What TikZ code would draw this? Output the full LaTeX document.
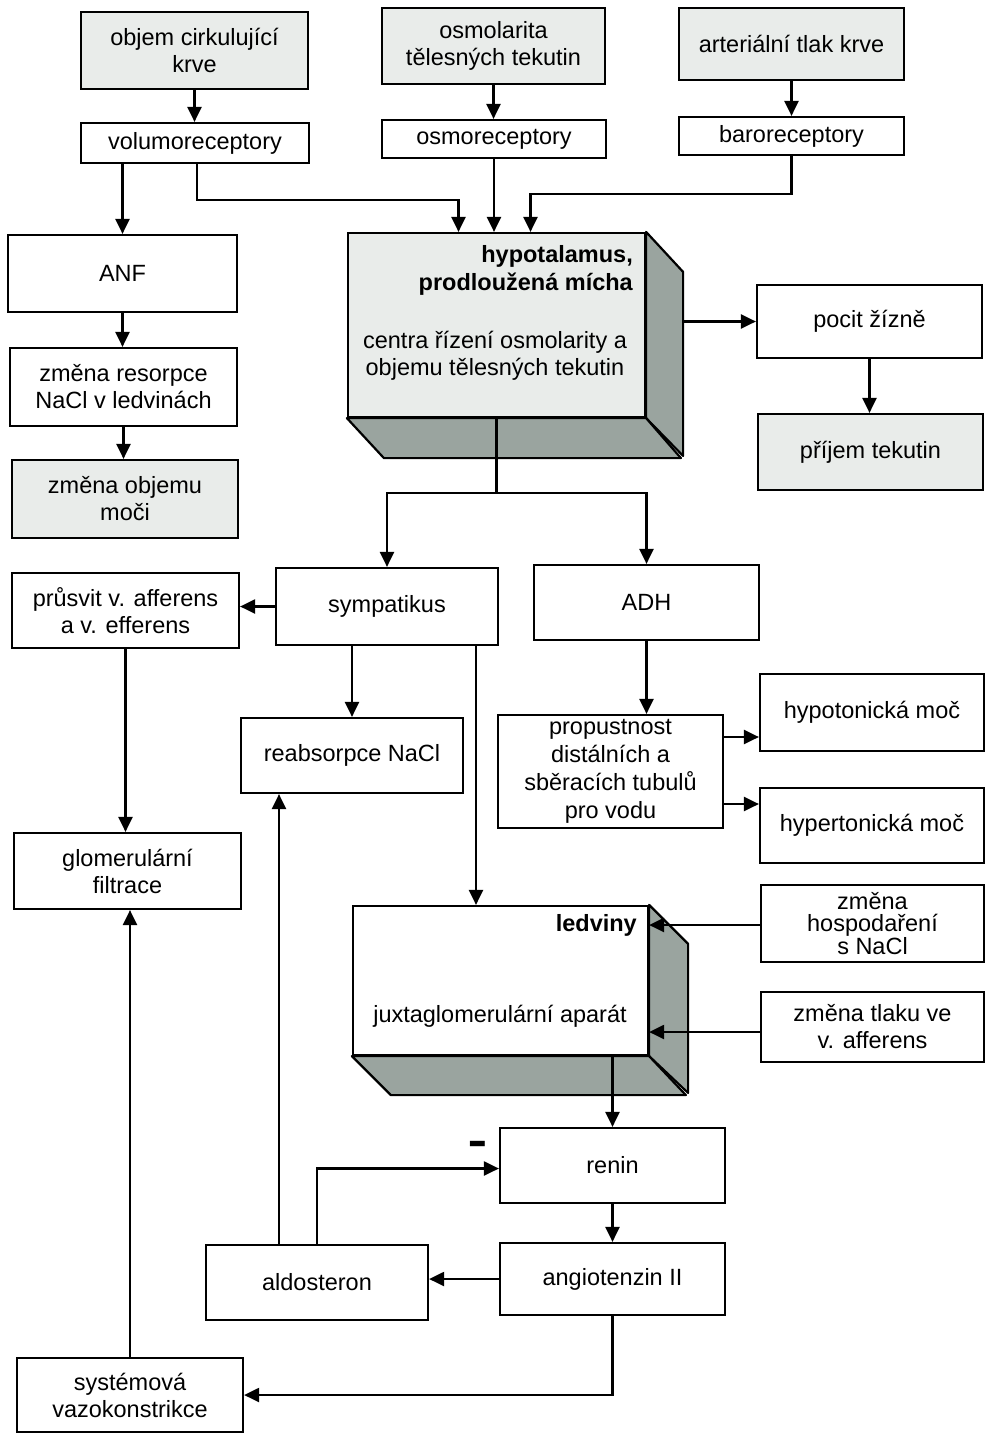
\documentclass[tikz,border=0pt]{standalone}
\usepackage{fontspec}
\setmainfont{Liberation Sans}
\usetikzlibrary{arrows.meta}
\definecolor{shadelight}{HTML}{E9ECEA}
\definecolor{shadedark}{HTML}{9AA49F}

\begin{document}
\begin{tikzpicture}[
    x=1pt, y=-1pt,
    >={Triangle[length=15pt,width=14pt]},
    every node/.style={font=\fontsize{23.5}{27}\selectfont},
    box/.style={
        rectangle,
        draw,
        line width=2.2pt,
        fill=white,
        align=center,
        inner sep=2pt,
        minimum width=225pt,
        minimum height=76pt
    },
    thinbox/.style={box, minimum height=39pt},
    shadebox/.style={box, fill=shadelight},
    face/.style={draw, line width=2.2pt, fill=shadedark, line join=round},
    arrow/.style={->, line width=2.2pt},
    line/.style={line width=2.2pt}
]
    \useasboundingbox (0,0) rectangle (985,1435);

    % === STIMULI AND RECEPTORS ===
    \node[shadebox, minimum width=227pt, minimum height=77pt] (volume) at (194.5,50.5) {objem cirkulující\\krve};
    \node[shadebox, minimum width=223pt] (osmolarity) at (493.5,46) {osmolarita\\tělesných tekutin};
    \node[shadebox, minimum height=72pt] (pressure) at (791.5,44) {arteriální tlak krve};

    \node[thinbox, minimum width=228pt, minimum height=40pt] (volrec) at (195,143) {volumoreceptory};
    \node[thinbox, minimum width=224pt, minimum height=38pt] (osmorec) at (494,139) {osmoreceptory};
    \node[thinbox, minimum height=38pt] (barorec) at (791.5,136) {baroreceptory};

    % === HYPOTALAMUS (block) ===
    \node[shadebox, minimum width=297pt, minimum height=184pt] (hypo) at (496.5,325) {};
    \draw[face] (hypo.north east) -- ++(37,40) -- ++(0,184) -- (hypo.south east) -- cycle;
    \draw[face] (hypo.south west) -- ++(37,40) -- ++(297,0) -- (hypo.south east) -- cycle;
    \node[anchor=north east, align=right, inner sep=0,
          font=\fontsize{23.5}{28}\selectfont\bfseries] (hypotitle) at (633,245) {hypotalamus,\\prodloužená mícha};
    \node[align=center, inner sep=0] (hypotext) at (495,356) {centra řízení osmolarity a\\objemu tělesných tekutin};

    % thirst
    \node[box, minimum height=73pt] (thirst) at (869.5,321.5) {pocit žízně};
    \node[shadebox] (intake) at (870.5,452) {příjem tekutin};

    % === LEFT COLUMN ===
    \node[box, minimum width=229pt, minimum height=77pt] (anf) at (122.5,273.5) {ANF};
    \node[box, minimum width=227pt, minimum height=78pt] (resorb) at (123.5,387) {změna resorpce\\NaCl v ledvinách};
    \node[shadebox, minimum width=226pt, minimum height=78pt] (urine) at (125,499) {změna objemu\\moči};

    \node[box, minimum width=227pt, minimum height=75pt] (lumen) at (125.5,610.5) {průsvit v. afferens\\a v. efferens};
    \node[box, minimum width=227pt, minimum height=76pt] (gfr) at (127.5,871) {glomerulární\\filtrace};

    % === SYMPATIKUS / ADH ===
    \node[box, minimum width=222pt, minimum height=77pt] (symp) at (387,606.5) {sympatikus};
    \node[box, minimum height=75pt] (adh) at (646.5,602.5) {ADH};
    \node[box, minimum width=222pt, minimum height=75pt] (reabs) at (352,755.5) {reabsorpce NaCl};
    \node[box, minimum height=113pt, inner sep=0pt,
          font=\fontsize{23.5}{28}\selectfont] (perm) at (610.5,771.5) {propustnost\\distálních a\\sběracích tubulů\\pro vodu};
    \node[box, minimum width=224pt, minimum height=77pt] (hypoton) at (872,712.5) {hypotonická moč};
    \node[box, minimum width=224pt, minimum height=75pt] (hyperton) at (872,825.5) {hypertonická moč};

    % === LEDVINY (block) ===
    \node[box, minimum width=295pt, minimum height=149pt] (kidney) at (500.5,980.5) {};
    \draw[face] (kidney.north east) -- ++(39,39) -- ++(0,149) -- (kidney.south east) -- cycle;
    \draw[face] (kidney.south west) -- ++(39,39) -- ++(295,0) -- (kidney.south east) -- cycle;
    \node[anchor=east, inner sep=0, font=\fontsize{23.5}{27}\selectfont\bfseries] (kidneytitle) at (637,925) {ledviny};
    \node[inner sep=0] (jga) at (500,1016) {juxtaglomerulární aparát};

    \node[box, minimum width=223pt, minimum height=77pt,
          font=\fontsize{23.5}{21.5}\selectfont] (nacl) at (872.5,923.5) {změna\\hospodaření\\s NaCl};
    \node[box, minimum width=223pt, minimum height=70pt] (afpress) at (872.5,1027) {změna tlaku ve\\v. afferens};

    % === RENIN - ANGIOTENZIN - ALDOSTERON ===
    \node[box, minimum height=75pt] (renin) at (612.5,1165.5) {renin};
    \node[box, minimum height=72pt] (angio) at (612.5,1279) {angiotenzin II};
    \node[box, minimum width=222pt, minimum height=75pt] (aldo) at (317,1282.5) {aldosteron};
    \node[box, minimum width=226pt, minimum height=74pt] (vaso) at (130,1395) {systémová\\vazokonstrikce};
    \node[anchor=base, inner sep=0, font=\fontsize{30}{30}\selectfont\bfseries] (minus) at (478,1158) {\scalebox{1}[1.8]{–}};

    % === CONNECTORS ===
    \draw[arrow] (volume.south) -- (volume.south |- volrec.north);
    \draw[arrow] (osmolarity.south) -- (osmolarity.south |- osmorec.north);
    \draw[arrow] (pressure) -- (barorec);

    \draw[arrow] ([xshift=2]volrec.south) -- ++(0,36) -| ([xshift=-38]hypo.north);
    \draw[arrow] (volrec.south -| anf.north) -- (anf.north);
    \draw[arrow] (osmorec.south) -- (osmorec.south |- hypo.north);
    \draw[arrow] (barorec.south) -- ++(0,38) -| ([xshift=34]hypo.north);

    \draw[arrow] ([xshift=37]hypo.east |- thirst.west) -- (thirst.west);
    \draw[arrow] (thirst.south) -- (thirst.south |- intake.north);

    \draw[arrow] (anf.south) -- (anf.south |- resorb.north);
    \draw[arrow] (resorb.south) -- (resorb.south |- urine.north);

    \draw[line] (hypo.south) -- ++(0,75) coordinate (fork);
    \draw[arrow] (fork) -| (symp.north);
    \draw[arrow] (fork) -| (adh.north);

    \draw[arrow] (symp.west) -- (symp.west -| lumen.east);
    \draw[arrow] (reabs.north |- symp.south) -- (reabs.north);
    \draw[arrow] ([xshift=89]symp.south) -- ([xshift=89]symp.south |- kidney.north);
    \draw[arrow] (lumen.south) -- (lumen.south |- gfr.north);

    \draw[arrow] (adh.south) -- (adh.south |- perm.north);
    \draw[arrow] ([yshift=34.5]perm.east) -- ([yshift=34.5]perm.east -| hypoton.west);
    \draw[arrow] ([yshift=-32.5]perm.east) -- ([yshift=-32.5]perm.east -| hyperton.west);

    \draw[arrow] ([yshift=-1.5]nacl.west) -- ([yshift=-1.5]nacl.west -| kidney.east);
    \draw[arrow] ([yshift=-5]afpress.west) -- ([yshift=-5]afpress.west -| kidney.east);

    \draw[arrow] (renin.north |- kidney.south) -- (renin.north);
    \draw[arrow] (renin) -- (angio);
    \draw[arrow] (angio.west) -- (angio.west -| aldo.east);
    \draw[arrow] (aldo.north) |- ([yshift=-3]renin.west);
    \draw[arrow] ([xshift=-38]aldo.north) -- ([xshift=-38]aldo.north |- reabs.south);
    \draw[arrow] (angio.south) |- (vaso.east);
    \draw[arrow] (vaso.north) -- (vaso.north |- gfr.south);
\end{tikzpicture}
\end{document}
